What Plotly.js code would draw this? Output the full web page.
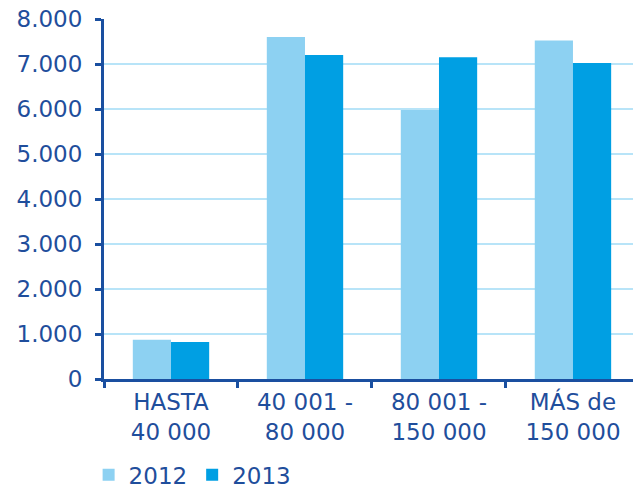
<!DOCTYPE html>
<html>
<head>
<meta charset="utf-8">
<script src="https://cdn.plot.ly/plotly-3.0.1.min.js"></script>
<style>html,body{margin:0;padding:0;background:#fff;}#chart{width:633px;height:490px;}</style>
</head>
<body>
<div id="chart"></div>
<script>
var categories = ["HASTA<br>40 000", "40 001 -<br>80 000", "80 001 -<br>150 000", "MÁS de<br>150 000"];
var values2012 = [870, 7600, 5980, 7520];
var values2013 = [820, 7200, 7150, 7020];
var seriesNames = ["2012", "2013"];
var yTicks = [0, 1000, 2000, 3000, 4000, 5000, 6000, 7000, 8000];

var textColor = "#1f4e9c";
var axisColor = "#1a4fa0";

var traces = [
  {type: "bar", name: seriesNames[0], x: categories, y: values2012,
   marker: {color: "#8dd1f2", line: {width: 0}}},
  {type: "bar", name: seriesNames[1], x: categories, y: values2013,
   marker: {color: "#009fe3", line: {width: 0}}}
];

var layout = {
  width: 633, height: 490,
  margin: {l: 104, r: 0, t: 19, b: 111, pad: 0},
  paper_bgcolor: "#ffffff", plot_bgcolor: "#ffffff",
  separators: ",.",
  font: {family: "DejaVu Sans", size: 22, color: textColor},
  barmode: "group", bargap: 0.43, bargroupgap: 0,
  showlegend: true,
  legend: {orientation: "h", x: 0.14, xref: "container", xanchor: "left",
           y: 0.031, yref: "container", yanchor: "middle",
           font: {size: 23, color: textColor}, itemwidth: 30, tracegroupgap: 0},
  xaxis: {type: "category", range: [-0.5, 3.448], showline: true, linecolor: axisColor, linewidth: 3,
          ticks: "outside", tickson: "boundaries", tickcolor: axisColor, tickwidth: 3, ticklen: 6,
          showgrid: false, zeroline: false, tickfont: {size: 23, color: textColor}, fixedrange: true},
  yaxis: {range: [0, 8000], tickvals: yTicks, tickformat: ",d", showline: true, linecolor: axisColor, linewidth: 3,
          ticks: "outside", tickcolor: axisColor, tickwidth: 3, ticklen: 6, ticklabelstandoff: 8,
          showgrid: true, gridcolor: "#b8e4f8", gridwidth: 2, zeroline: false,
          tickfont: {size: 23, color: textColor}, fixedrange: true}
};

Plotly.newPlot("chart", traces, layout, {displayModeBar: false, staticPlot: true});
</script>
</body>
</html>
